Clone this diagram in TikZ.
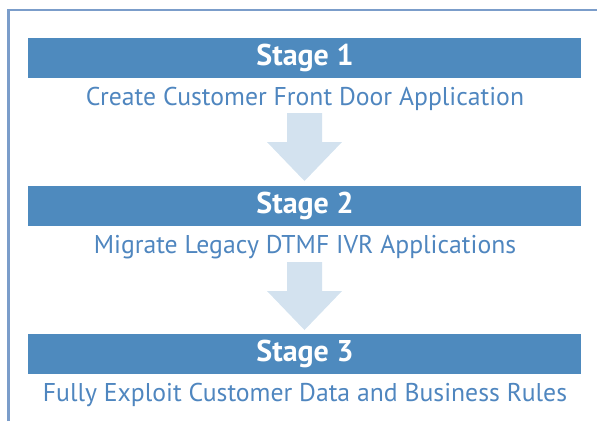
\documentclass[tikz,border=0pt]{standalone}
\usepackage{fontspec}
\setmainfont{PT Sans}
\newfontfamily\subfont{PT Sans}
\newfontfamily\stagefont{PT Sans Bold}
\begin{document}
\begin{tikzpicture}[x=1pt,y=-1pt,
  bar/.style={fill=barblue, draw=none, minimum width=553pt, minimum height=40pt, inner sep=0pt, anchor=north},
  stagetxt/.style={text=white, inner sep=0pt, anchor=base, font=\stagefont\fontsize{30}{32}\selectfont},
  sub/.style={text=txtblue, inner sep=0pt, anchor=base, font=\subfont\fontsize{25.7}{28}\selectfont},
  blockarrow/.style={fill=arrblue, draw=none}
]
\definecolor{barblue}{HTML}{4E8ABE}
\definecolor{txtblue}{HTML}{4F86BF}
\definecolor{arrblue}{HTML}{D3E2EF}
\definecolor{frameblue}{HTML}{7B9DCA}
\useasboundingbox (0,0) rectangle (597,421);
\draw[frameblue, line width=2.5pt] (8.5,421) -- (8.5,10) -- (597,10);

\node[bar] (s1) at (304.5,38) {};
\node[stagetxt] (l1) at (305,65) {Stage 1};
\node[sub] (t1) at (305,105) {Create Customer Front Door Application};
\node[bar] (s2) at (304.5,186) {};
\node[stagetxt] (l2) at (305,213) {Stage 2};
\node[sub] (t2) at (305,253) {Migrate Legacy DTMF IVR Applications};
\node[bar] (s3) at (304.5,334) {};
\node[stagetxt] (l3) at (305,361) {Stage 3};
\node[sub] (t3) at (305,401) {Fully Exploit Customer Data and Business Rules};

\fill[blockarrow] (287,113) -- (322,113) -- (322,142) -- (342,142) -- (304.5,181) -- (267,142) -- (287,142) -- cycle;
\fill[blockarrow] (287,262) -- (322,262) -- (322,291) -- (342,291) -- (304.5,330) -- (267,291) -- (287,291) -- cycle;
\end{tikzpicture}
\end{document}
